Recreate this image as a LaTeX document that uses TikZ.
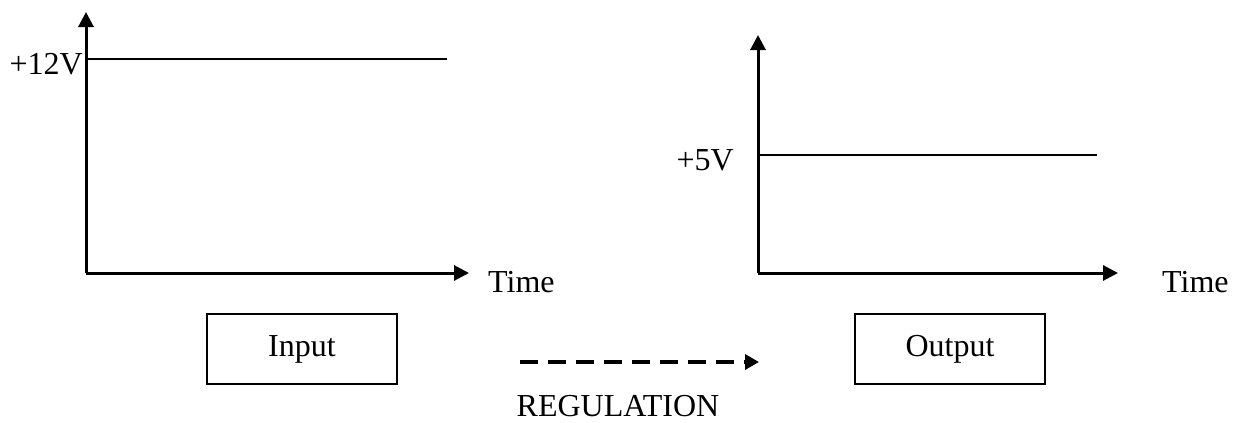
\documentclass[tikz,border=0pt]{standalone}
\usepackage{fontspec}
\setmainfont{Liberation Serif}
\usetikzlibrary{arrows.meta}
\begin{document}
\begin{tikzpicture}[x=1pt,y=-1pt,
  axis/.style={line width=3pt,-{Triangle[length=15pt,width=15pt]}},
  level/.style={line width=2.7pt},
  lbl/.style={font=\fontsize{32}{36}\selectfont,inner sep=0pt},
  box/.style={draw,line width=2.8pt,minimum width=190pt,minimum height=70pt,inner sep=0pt,font=\fontsize{32}{36}\selectfont},
  flow/.style={line width=3.4pt,dash pattern=on 18pt off 10pt,-{Triangle[length=14pt,width=15pt]}}]
\useasboundingbox (0,0) rectangle (1245,423);
% left graph
\coordinate (o1) at (86,273);
\coordinate (y1) at (86,12);
\coordinate (x1) at (469,273);
\coordinate (a1) at (86,59);
\coordinate (b1) at (447,59);
\draw[axis] (o1) -- (y1);
\draw[axis] (o1) -- (x1);
\draw[level] (a1) -- (b1);
\node[lbl,anchor=base east] (v12) at (83,74) {+12V};
\node[lbl,anchor=base west] (t1) at (488,292) {Time};
% right graph
\coordinate (o2) at (758,273);
\coordinate (y2) at (758,35);
\coordinate (x2) at (1118,273);
\coordinate (a2) at (758,155);
\coordinate (b2) at (1097,155);
\draw[axis] (o2) -- (y2);
\draw[axis] (o2) -- (x2);
\draw[level] (a2) -- (b2);
\node[lbl,anchor=base east] (v5) at (734,170) {+5V};
\node[lbl,anchor=base west] (t2) at (1162,292) {Time};
% boxes
\node[box] (in) at (302,349) {Input};
\node[box] (out) at (950,349) {Output};
\coordinate (d1) at (520,362);
\coordinate (d2) at (759,362);
\draw[flow] (d1) -- (d2);
\node[lbl,anchor=base] (reg) at (618,416) {REGULATION};
\end{tikzpicture}
\end{document}
